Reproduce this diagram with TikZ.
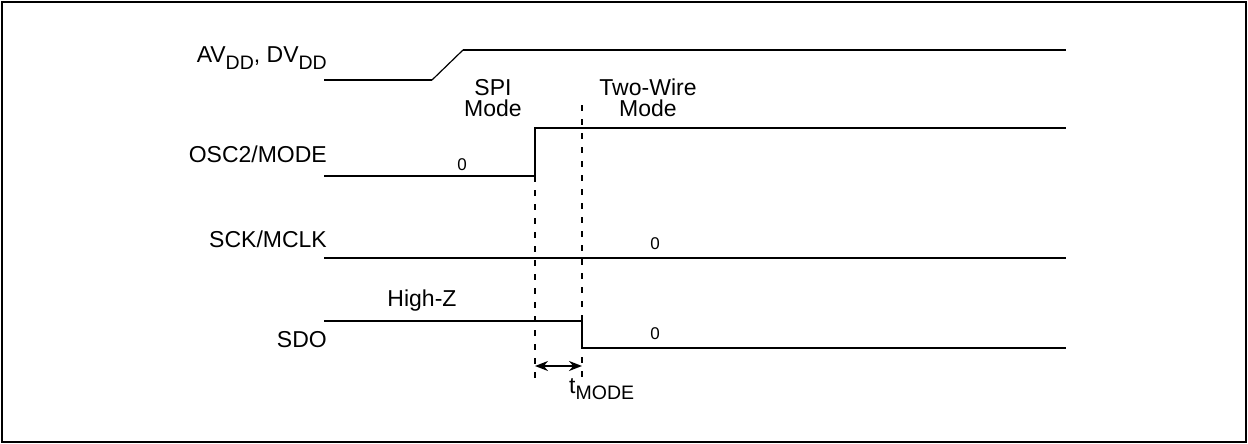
\documentclass[tikz,border=0pt]{standalone}
\usepackage{fontspec}
\setmainfont{Liberation Sans}
\usetikzlibrary{arrows.meta}
\usetikzlibrary{positioning}
\usetikzlibrary{calc}

\newcommand{\subtxt}[1]{\raisebox{-0.3em}{\fontsize{19.5}{19.5}\selectfont #1}}

\begin{document}
\begin{tikzpicture}[x=1pt,y=-1pt,>={Stealth[length=13pt,width=10pt]}]
				\tikzset{signal/.style = {line width=2.4pt, line join=miter},
					guide/.style = {line width=2.2pt, dash pattern=on 6pt off 8pt},
					lbl/.style = {inner sep=0pt, font=\fontsize{23}{21}\selectfont},
					small/.style = {inner sep=0pt, font=\fontsize{17}{17}\selectfont}}
				\useasboundingbox (0,0) rectangle (1248,444);
				\draw[line width=2.5pt] (2,2) rectangle (1246,442);
				
				% signal names
				\node[lbl, anchor=base east] (AVDD) at (327,63) {AV\subtxt{DD}, DV\subtxt{DD}};
				\node[lbl, anchor=base east] (OSC) at (327,162) {OSC2/MODE};
				\node[lbl, anchor=base east] (SCK) at (327,247) {SCK/MCLK};
				\node[lbl, anchor=base east] (SDO) at (327,347) {SDO};
				
				% waveforms
				\draw[signal] (324,80) -- (432,80);
				\draw[line width=1.2pt] (432,80) -- (463,50);
				\draw[signal] (463,50) -- (1066,50);
				\draw[signal] (324,176) -- (535,176) -- (535,128) -- (1066,128);
				\draw[signal] (324,258) -- (1066,258);
				\draw[signal] (324,321) -- (582,321) -- (582,348) -- (1066,348);
				
				% levels and modes
				\node[small, anchor=base] (OSCLOW) at (462,170) {0};
				\node[small, anchor=base] (SCKLOW) at (655,249) {0};
				\node[small, anchor=base] (SDOLOW) at (655,339) {0};
				\node[lbl, anchor=base] (HIGHZ) at (422,306) {High-Z};
				\node[lbl, anchor=base, align=center] (SPI) at (493,117) {SPI\\Mode};
				\node[lbl, anchor=base, align=center] (TWOWIRE) at (648,117) {Two-Wire\\Mode};
				
				% timing
				\coordinate (SPITOP) at (535,176);
				\coordinate (SPIBOT) at (535,382);
				\coordinate (TWTOP) at (582,105);
				\coordinate (TWBOT) at (582,382);
				\draw[guide] (SPITOP) -- (SPIBOT);
				\draw[guide] (TWTOP) -- (TWBOT);
				\draw[<->, line width=1.8pt] (535,366) -- (582,366);
				\node[lbl, anchor=base west] (TMODE) at (569,393) {t\subtxt{MODE}};
				
\end{tikzpicture}
\end{document}
